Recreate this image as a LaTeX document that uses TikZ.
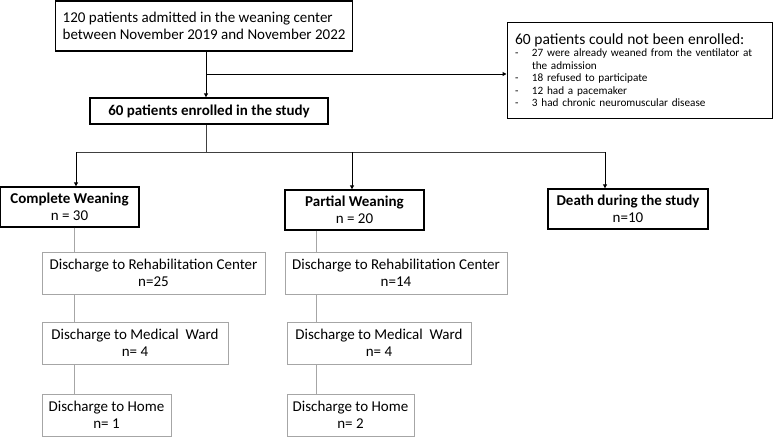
\documentclass[tikz,border=0pt]{standalone}
\usepackage{fontspec}
\setmainfont{Carlito}
\usetikzlibrary{arrows.meta}

\begin{document}
\begin{tikzpicture}[
    x=1pt, y=-1pt, >={Triangle[length=4pt, width=4pt]},
    box/.style={draw, line width=1.4pt, inner sep=0pt, align=center, font=\fontsize{15}{17.5}\selectfont},
    sub/.style={draw=black!35, line width=1pt, inner sep=0pt, align=center, font=\fontsize{15}{17.5}\selectfont},
    link/.style={->, line width=1pt},
    bus/.style={line width=1pt, black!75},
    drop/.style={line width=1pt, black!35}
]
    \useasboundingbox (0,0) rectangle (773,437);

    % top part
    \node[box, inner xsep=7pt, minimum height=50pt, align=left, anchor=west] (admit) at (55,26)
        {120 patients admitted in the weaning center\\between November 2019 and November 2022};
    \node[box, line width=1pt, text width=249pt, inner xsep=8pt, minimum height=96pt, align=left,
          font=\fontsize{11.2}{12.5}\selectfont] (excl) at (639.5,70)
        {{\fontsize{15.5}{16}\selectfont 60 patients could not been enrolled:}\\
         \makebox[17pt][l]{-}27 were already weaned from the ventilator at\\
         \hspace*{17pt}the admission\\
         \makebox[17pt][l]{-}18 refused to participate\\
         \makebox[17pt][l]{-}12 had a pacemaker\\
         \makebox[17pt][l]{-}3 had chronic neuromuscular disease};
    \node[box, minimum width=238pt, minimum height=26pt, font=\fontsize{15}{17.5}\selectfont\bfseries] (enrol) at (209,111)
        {60 patients enrolled in the study};

    % outcomes
    \node[box, minimum width=139pt, minimum height=40pt] (cw) at (69.5,207)
        {\textbf{Complete Weaning}\\n = 30};
    \node[box, minimum width=139pt, minimum height=40pt] (pw) at (354.5,210)
        {\textbf{Partial Weaning}\\n = 20};
    \node[box, minimum width=160pt, minimum height=40pt] (death) at (628,209)
        {\textbf{Death during the study}\\n=10};

    % discharges
    \node[sub, minimum width=223pt, minimum height=42pt] (cr) at (153.5,273)
        {Discharge to Rehabilitation Center\\n=25};
    \node[sub, minimum width=186pt, minimum height=42pt] (cm) at (135,343)
        {Discharge to Medical\ \ Ward\\n= 4};
    \node[sub, minimum width=129pt, minimum height=42pt] (ch) at (106.5,415)
        {Discharge to Home\\n= 1};
    \node[sub, minimum width=222pt, minimum height=42pt] (pr) at (396,273)
        {Discharge to Rehabilitation Center\\n=14};
    \node[sub, minimum width=184pt, minimum height=42pt] (pm) at (379,343)
        {Discharge to Medical\ \ Ward\\n= 4};
    \node[sub, minimum width=127pt, minimum height=42pt] (ph) at (350.5,415)
        {Discharge to Home\\n= 2};

    \coordinate (split) at (206,74);
    \coordinate (bus) at (206,152);
    \coordinate (bl) at (76,152);
    \coordinate (bm) at (352,152);
    \coordinate (br) at (605,152);
    \coordinate (c1) at (74,0);
    \coordinate (c2) at (316,0);

    \draw[link] (admit.south -| split) -- (enrol.north -| split);
    \draw[link] (split) -- (split -| excl.west);
    \draw[bus] (enrol.south -| bus) -- (bus);
    \draw[bus] (bl) -- (br);
    \draw[link] (bl) -- (bl |- cw.north);
    \draw[link] (bm) -- (bm |- pw.north);
    \draw[link] (br) -- (br |- death.north);

    \draw[drop] (cw.south -| c1) -- (cr.north -| c1);
    \draw[drop] (cr.south -| c1) -- (cm.north -| c1);
    \draw[drop] (cm.south -| c1) -- (ch.north -| c1);
    \draw[drop] (pw.south -| c2) -- (pr.north -| c2);
    \draw[drop] (pr.south -| c2) -- (pm.north -| c2);
    \draw[drop] (pm.south -| c2) -- (ph.north -| c2);
\end{tikzpicture}
\end{document}
